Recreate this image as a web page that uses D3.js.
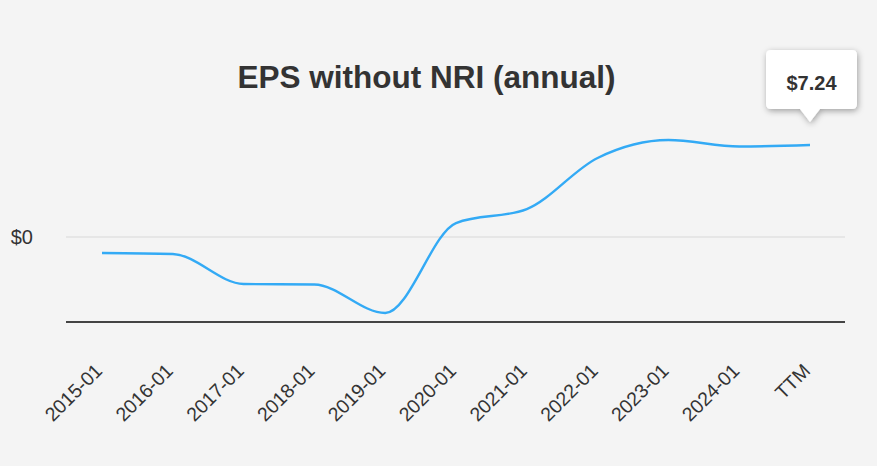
<!DOCTYPE html>
<html><head><meta charset="utf-8">
<script src="https://cdn.jsdelivr.net/npm/d3@7"></script>
<style>
html,body{margin:0;padding:0;background:#f4f4f4;}
svg{display:block;font-family:"Liberation Sans",Arial,sans-serif;}
</style></head>
<body>
<svg id="chart" width="877" height="466"></svg>
<script>
const categories = ["2015-01","2016-01","2017-01","2018-01","2019-01","2020-01","2021-01","2022-01","2023-01","2024-01","TTM"];
const epsValues = [-1.26,-1.34,-3.70,-3.74,-5.98,1.10,2.20,6.22,7.63,7.12,7.24];
const yTickValues = [0];
const yTickLabels = ["$0"];
const tooltipLabel = "$7.24";

const svg = d3.select("#chart");
const W = 877, H = 466;
svg.append("rect").attr("width",W).attr("height",H).attr("fill","#f4f4f4");

const plotLeft = 66, plotRight = 845;
const x = d3.scalePoint().domain(categories).range([102,810]);
const y = d3.scaleLinear().domain([-6.69, 7.24]).range([322,145]);

// title
svg.append("text").attr("x",426.5).attr("y",88).attr("text-anchor","middle")
  .attr("font-size",31.5).attr("font-weight","bold").attr("fill","#333")
  .text("EPS without NRI (annual)");

// y axis label and gridline at 0
const yAxis = d3.axisLeft(y).tickValues(yTickValues).tickFormat((d,i)=>yTickLabels[i]).tickSize(0);
const gy = svg.append("g").attr("transform",`translate(${plotLeft},0)`).call(yAxis);
gy.select(".domain").remove();
gy.selectAll("text").attr("x",-33).attr("font-size",20).attr("fill","#333")
  .attr("font-family","Liberation Sans,Arial,sans-serif").attr("text-anchor","end");
svg.selectAll(".grid").data(yTickValues).enter().append("line")
  .attr("x1",plotLeft).attr("x2",plotRight).attr("y1",d=>y(d)).attr("y2",d=>y(d))
  .attr("stroke","#e6e6e6").attr("stroke-width",2);

// x axis
const xAxis = d3.axisBottom(x).tickSize(0);
const gx = svg.append("g").attr("transform","translate(0,322)").call(xAxis);
gx.select(".domain").remove();
gx.selectAll("text").attr("font-size",19.5).attr("fill","#333").attr("font-family","Liberation Sans,Arial,sans-serif")
  .attr("text-anchor","end").attr("dy",null).attr("y",0)
  .attr("transform","translate(1,50) rotate(-45)");
svg.append("line").attr("x1",plotLeft).attr("x2",plotRight).attr("y1",322).attr("y2",322)
  .attr("stroke","#444").attr("stroke-width",2);

// line
const line = d3.line().x((d,i)=>x(categories[i])).y(d=>y(d)).curve(d3.curveMonotoneX);
svg.append("path").datum(epsValues).attr("d",line).attr("fill","none")
  .attr("stroke","#33aaf5").attr("stroke-width",2.4);

// tooltip
const defs = svg.append("defs");
const f = defs.append("filter").attr("id","sh").attr("x","-30%").attr("y","-30%").attr("width","160%").attr("height","160%");
f.append("feDropShadow").attr("dx",1).attr("dy",2).attr("stdDeviation",3).attr("flood-color","#000").attr("flood-opacity",0.35);
const tx = x("TTM"), ty = y(epsValues[epsValues.length-1]);
const bx0 = tx-44, bx1 = tx+47, by0 = 50, by1 = 109, r = 5;
const tip = `M${bx0+r},${by0} H${bx1-r} Q${bx1},${by0} ${bx1},${by0+r} V${by1-r} Q${bx1},${by1} ${bx1-r},${by1} H${tx+10} L${tx},${ty-23} L${tx-10},${by1} H${bx0+r} Q${bx0},${by1} ${bx0},${by1-r} V${by0+r} Q${bx0},${by0} ${bx0+r},${by0} Z`;
svg.append("path").attr("d",tip).attr("fill","#fff").attr("filter","url(#sh)");
svg.append("text").attr("x",(bx0+bx1)/2).attr("y",90).attr("text-anchor","middle")
  .attr("font-size",20).attr("font-weight","bold").attr("fill","#333").text(tooltipLabel);
</script>
</body></html>
